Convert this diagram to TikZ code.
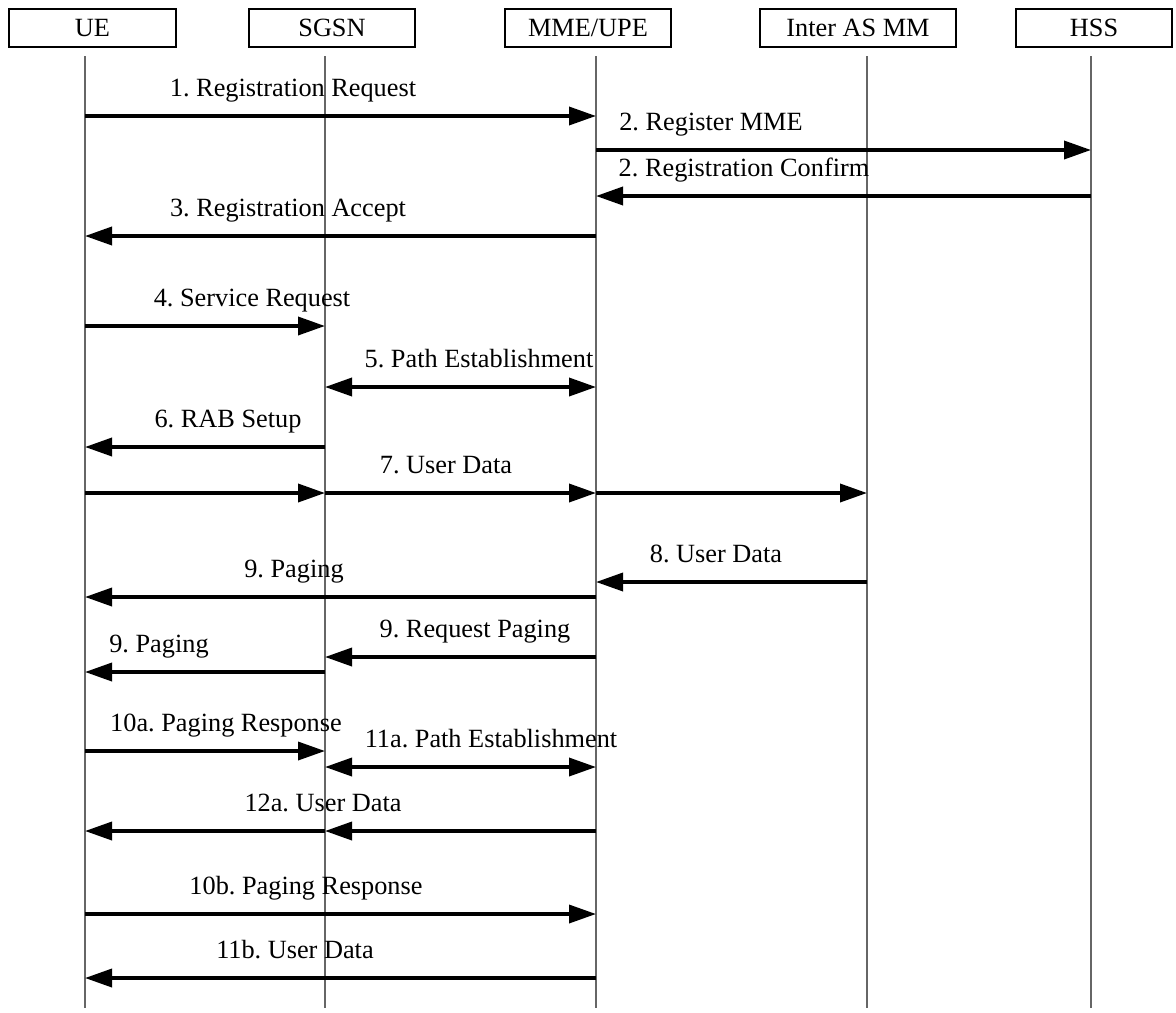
\documentclass[tikz,border=0pt]{standalone}
\usepackage{fontspec}
\setmainfont{Liberation Serif}
\usetikzlibrary{arrows.meta}
\frenchspacing

\begin{document}
\begin{tikzpicture}[x=0.5pt,y=-0.5pt,>={Triangle[length=13.5pt,width=9pt]},
  every node/.style={font=\fontsize{13.15pt}{15pt}\selectfont},
  box/.style={draw,line width=1pt,minimum height=19pt,inner sep=0pt},
  life/.style={black!60,line width=0.7pt},
  msg/.style={line width=1.8pt},
  lbl/.style={anchor=base,inner sep=0pt}]

\useasboundingbox (0,0) rectangle (1176,1012);

\node[box,minimum width=83.5pt] (ue) at (92.5,28) {UE};
\node[box,minimum width=83pt] (sgsn) at (332,28) {SGSN};
\node[box,minimum width=83pt] (mme) at (588,28) {MME/UPE};
\node[box,minimum width=98pt] (iasmm) at (858,28) {Inter AS MM};
\node[box,minimum width=78pt] (hss) at (1094,28) {HSS};

\coordinate (ueL) at (85,56);
\coordinate (sgsnL) at (325,56);
\coordinate (mmeL) at (596,56);
\coordinate (iasmmL) at (867,56);
\coordinate (hssL) at (1091,56);

\draw[life] (ueL) -- (ueL |- 0,1008);
\draw[life] (sgsnL) -- (sgsnL |- 0,1008);
\draw[life] (mmeL) -- (mmeL |- 0,1008);
\draw[life] (iasmmL) -- (iasmmL |- 0,1008);
\draw[life] (hssL) -- (hssL |- 0,1008);

\draw[msg,->] (ueL |- 0,116) -- (mmeL |- 0,116);
\node[lbl] (m1) at (293,96) {1. Registration Request};

\draw[msg,->] (mmeL |- 0,150) -- (hssL |- 0,150);
\node[lbl] (m2a) at (711,130) {2. Register MME};

\draw[msg,->] (hssL |- 0,196) -- (mmeL |- 0,196);
\node[lbl] (m2b) at (744,176) {2. Registration Confirm};

\draw[msg,->] (mmeL |- 0,236) -- (ueL |- 0,236);
\node[lbl] (m3) at (288,216) {3. Registration Accept};

\draw[msg,->] (ueL |- 0,326) -- (sgsnL |- 0,326);
\node[lbl] (m4) at (252,306) {4. Service Request};

\draw[msg,<->] (sgsnL |- 0,387) -- (mmeL |- 0,387);
\node[lbl] (m5) at (479,367) {5. Path Establishment};

\draw[msg,->] (sgsnL |- 0,447) -- (ueL |- 0,447);
\node[lbl] (m6) at (228,427) {6. RAB Setup};

\draw[msg,->] (ueL |- 0,493) -- (sgsnL |- 0,493);
\draw[msg,->] (sgsnL |- 0,493) -- (mmeL |- 0,493);
\draw[msg,->] (mmeL |- 0,493) -- (iasmmL |- 0,493);
\node[lbl] (m7) at (446,473) {7. User Data};

\draw[msg,->] (iasmmL |- 0,582) -- (mmeL |- 0,582);
\node[lbl] (m8) at (716,562) {8. User Data};

\draw[msg,->] (mmeL |- 0,597) -- (ueL |- 0,597);
\node[lbl] (m9a) at (294,577) {9. Paging};

\draw[msg,->] (mmeL |- 0,657) -- (sgsnL |- 0,657);
\node[lbl] (m9b) at (475,637) {9. Request Paging};

\draw[msg,->] (sgsnL |- 0,672) -- (ueL |- 0,672);
\node[lbl] (m9c) at (159,652) {9. Paging};

\draw[msg,->] (ueL |- 0,751) -- (sgsnL |- 0,751);
\node[lbl] (m10a) at (226,731) {10a. Paging Response};

\draw[msg,<->] (sgsnL |- 0,767) -- (mmeL |- 0,767);
\node[lbl] (m11a) at (491,747) {11a. Path Establishment};

\draw[msg,->] (mmeL |- 0,831) -- (sgsnL |- 0,831);
\draw[msg,->] (sgsnL |- 0,831) -- (ueL |- 0,831);
\node[lbl] (m12a) at (323,811) {12a. User Data};

\draw[msg,->] (ueL |- 0,914) -- (mmeL |- 0,914);
\node[lbl] (m10b) at (306,894) {10b. Paging Response};

\draw[msg,->] (mmeL |- 0,978) -- (ueL |- 0,978);
\node[lbl] (m11b) at (295,958) {11b. User Data};
\end{tikzpicture}
\end{document}
